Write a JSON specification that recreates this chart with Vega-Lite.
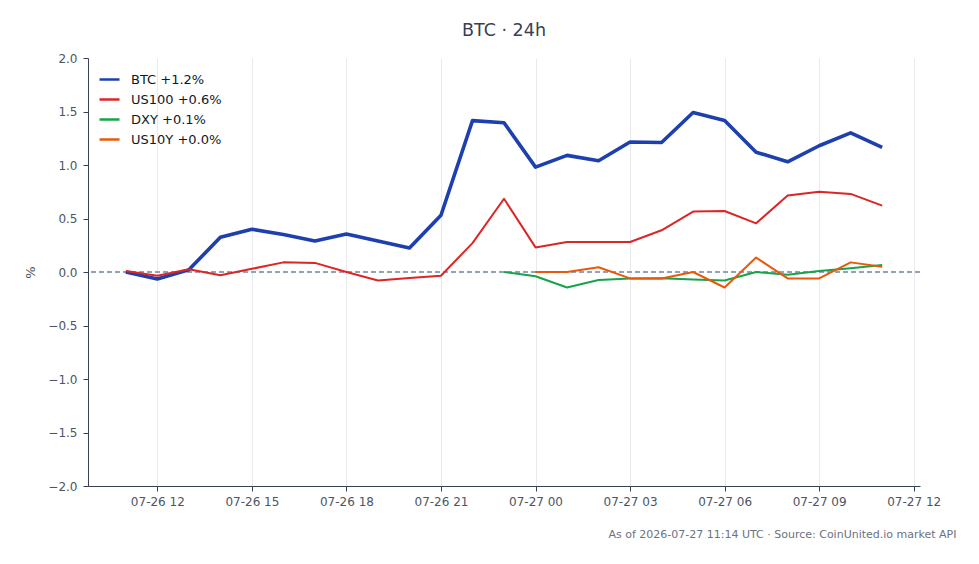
{
  "autosize": {"type": "none"},
  "padding": {"left": 88, "top": 58, "right": 59, "bottom": 78},
  "width": 832,
  "height": 428,
  "config": {
    "font": "DejaVu Sans",
    "view": {"stroke": null},
    "axis": {
      "labelColor": "#4b5563",
      "titleColor": "#4b5563",
      "labelFontSize": 12,
      "domainColor": "#374151",
      "tickColor": "#374151",
      "gridColor": "#e8eaee",
      "tickSize": 5
    }
  },
  "title": {
    "text": "BTC \u00b7 24h",
    "fontSize": 17.5,
    "fontWeight": "normal",
    "color": "#374151",
    "offset": 13
  },
  "data": {
    "values": [
      {"t": "2026-07-26T11:00:00Z", "s": "BTC +1.2%", "v": 0.0},
      {"t": "2026-07-26T12:00:00Z", "s": "BTC +1.2%", "v": -0.065},
      {"t": "2026-07-26T13:00:00Z", "s": "BTC +1.2%", "v": 0.02},
      {"t": "2026-07-26T14:00:00Z", "s": "BTC +1.2%", "v": 0.325},
      {"t": "2026-07-26T15:00:00Z", "s": "BTC +1.2%", "v": 0.4},
      {"t": "2026-07-26T16:00:00Z", "s": "BTC +1.2%", "v": 0.35},
      {"t": "2026-07-26T17:00:00Z", "s": "BTC +1.2%", "v": 0.29},
      {"t": "2026-07-26T18:00:00Z", "s": "BTC +1.2%", "v": 0.355},
      {"t": "2026-07-26T19:00:00Z", "s": "BTC +1.2%", "v": 0.29},
      {"t": "2026-07-26T20:00:00Z", "s": "BTC +1.2%", "v": 0.225},
      {"t": "2026-07-26T21:00:00Z", "s": "BTC +1.2%", "v": 0.53},
      {"t": "2026-07-26T22:00:00Z", "s": "BTC +1.2%", "v": 1.415},
      {"t": "2026-07-26T23:00:00Z", "s": "BTC +1.2%", "v": 1.395},
      {"t": "2026-07-27T00:00:00Z", "s": "BTC +1.2%", "v": 0.98},
      {"t": "2026-07-27T01:00:00Z", "s": "BTC +1.2%", "v": 1.09},
      {"t": "2026-07-27T02:00:00Z", "s": "BTC +1.2%", "v": 1.04},
      {"t": "2026-07-27T03:00:00Z", "s": "BTC +1.2%", "v": 1.215},
      {"t": "2026-07-27T04:00:00Z", "s": "BTC +1.2%", "v": 1.21},
      {"t": "2026-07-27T05:00:00Z", "s": "BTC +1.2%", "v": 1.49},
      {"t": "2026-07-27T06:00:00Z", "s": "BTC +1.2%", "v": 1.415},
      {"t": "2026-07-27T07:00:00Z", "s": "BTC +1.2%", "v": 1.12},
      {"t": "2026-07-27T08:00:00Z", "s": "BTC +1.2%", "v": 1.03},
      {"t": "2026-07-27T09:00:00Z", "s": "BTC +1.2%", "v": 1.18},
      {"t": "2026-07-27T10:00:00Z", "s": "BTC +1.2%", "v": 1.3},
      {"t": "2026-07-27T11:00:00Z", "s": "BTC +1.2%", "v": 1.165},
      {"t": "2026-07-26T11:00:00Z", "s": "US100 +0.6%", "v": 0.01},
      {"t": "2026-07-26T12:00:00Z", "s": "US100 +0.6%", "v": -0.035},
      {"t": "2026-07-26T13:00:00Z", "s": "US100 +0.6%", "v": 0.025},
      {"t": "2026-07-26T14:00:00Z", "s": "US100 +0.6%", "v": -0.03},
      {"t": "2026-07-26T15:00:00Z", "s": "US100 +0.6%", "v": 0.03},
      {"t": "2026-07-26T16:00:00Z", "s": "US100 +0.6%", "v": 0.09},
      {"t": "2026-07-26T17:00:00Z", "s": "US100 +0.6%", "v": 0.085},
      {"t": "2026-07-26T18:00:00Z", "s": "US100 +0.6%", "v": 0.0},
      {"t": "2026-07-26T19:00:00Z", "s": "US100 +0.6%", "v": -0.08},
      {"t": "2026-07-26T20:00:00Z", "s": "US100 +0.6%", "v": -0.055},
      {"t": "2026-07-26T21:00:00Z", "s": "US100 +0.6%", "v": -0.035},
      {"t": "2026-07-26T22:00:00Z", "s": "US100 +0.6%", "v": 0.27},
      {"t": "2026-07-26T23:00:00Z", "s": "US100 +0.6%", "v": 0.685},
      {"t": "2026-07-27T00:00:00Z", "s": "US100 +0.6%", "v": 0.23},
      {"t": "2026-07-27T01:00:00Z", "s": "US100 +0.6%", "v": 0.28},
      {"t": "2026-07-27T02:00:00Z", "s": "US100 +0.6%", "v": 0.28},
      {"t": "2026-07-27T03:00:00Z", "s": "US100 +0.6%", "v": 0.28},
      {"t": "2026-07-27T04:00:00Z", "s": "US100 +0.6%", "v": 0.39},
      {"t": "2026-07-27T05:00:00Z", "s": "US100 +0.6%", "v": 0.565},
      {"t": "2026-07-27T06:00:00Z", "s": "US100 +0.6%", "v": 0.57},
      {"t": "2026-07-27T07:00:00Z", "s": "US100 +0.6%", "v": 0.455},
      {"t": "2026-07-27T08:00:00Z", "s": "US100 +0.6%", "v": 0.715},
      {"t": "2026-07-27T09:00:00Z", "s": "US100 +0.6%", "v": 0.75},
      {"t": "2026-07-27T10:00:00Z", "s": "US100 +0.6%", "v": 0.73},
      {"t": "2026-07-27T11:00:00Z", "s": "US100 +0.6%", "v": 0.62},
      {"t": "2026-07-26T23:00:00Z", "s": "DXY +0.1%", "v": 0.0},
      {"t": "2026-07-27T00:00:00Z", "s": "DXY +0.1%", "v": -0.04},
      {"t": "2026-07-27T01:00:00Z", "s": "DXY +0.1%", "v": -0.145},
      {"t": "2026-07-27T02:00:00Z", "s": "DXY +0.1%", "v": -0.075},
      {"t": "2026-07-27T03:00:00Z", "s": "DXY +0.1%", "v": -0.06},
      {"t": "2026-07-27T04:00:00Z", "s": "DXY +0.1%", "v": -0.058},
      {"t": "2026-07-27T05:00:00Z", "s": "DXY +0.1%", "v": -0.07},
      {"t": "2026-07-27T06:00:00Z", "s": "DXY +0.1%", "v": -0.08},
      {"t": "2026-07-27T07:00:00Z", "s": "DXY +0.1%", "v": 0.0},
      {"t": "2026-07-27T08:00:00Z", "s": "DXY +0.1%", "v": -0.025},
      {"t": "2026-07-27T09:00:00Z", "s": "DXY +0.1%", "v": 0.01},
      {"t": "2026-07-27T10:00:00Z", "s": "DXY +0.1%", "v": 0.035},
      {"t": "2026-07-27T11:00:00Z", "s": "DXY +0.1%", "v": 0.065},
      {"t": "2026-07-27T00:00:00Z", "s": "US10Y +0.0%", "v": 0.0},
      {"t": "2026-07-27T01:00:00Z", "s": "US10Y +0.0%", "v": 0.0},
      {"t": "2026-07-27T02:00:00Z", "s": "US10Y +0.0%", "v": 0.045},
      {"t": "2026-07-27T03:00:00Z", "s": "US10Y +0.0%", "v": -0.06},
      {"t": "2026-07-27T04:00:00Z", "s": "US10Y +0.0%", "v": -0.06},
      {"t": "2026-07-27T05:00:00Z", "s": "US10Y +0.0%", "v": 0.0},
      {"t": "2026-07-27T06:00:00Z", "s": "US10Y +0.0%", "v": -0.145},
      {"t": "2026-07-27T07:00:00Z", "s": "US10Y +0.0%", "v": 0.135},
      {"t": "2026-07-27T08:00:00Z", "s": "US10Y +0.0%", "v": -0.06},
      {"t": "2026-07-27T09:00:00Z", "s": "US10Y +0.0%", "v": -0.06},
      {"t": "2026-07-27T10:00:00Z", "s": "US10Y +0.0%", "v": 0.09},
      {"t": "2026-07-27T11:00:00Z", "s": "US10Y +0.0%", "v": 0.05}
    ]
  },
  "layer": [
    {
      "mark": {"type": "rule", "strokeDash": [5, 3], "color": "#94a3b8", "strokeWidth": 1},
      "encoding": {"y": {"datum": 0}}
    },
    {
      "mark": {"type": "line", "strokeJoin": "round"},
      "encoding": {
        "x": {
          "field": "t",
          "type": "temporal",
          "scale": {"domain": [1785059280000, 1785154320000]},
          "axis": {
            "format": "%m-%d %H",
            "tickCount": 9,
            "labelPadding": 5,
            "title": "As of 2026-07-27 11:14 UTC \u00b7 Source: CoinUnited.io market API",
            "titleFontSize": 11,
            "titleFontWeight": "normal",
            "titleColor": "#6b7280",
            "titleAlign": "right",
            "titleX": 868,
            "titleY": 42
          }
        },
        "y": {
          "field": "v",
          "type": "quantitative",
          "scale": {"domain": [-2, 2], "nice": false},
          "axis": {
            "values": [-2, -1.5, -1, -0.5, 0, 0.5, 1, 1.5, 2],
            "format": ".1f",
            "title": "%",
            "titleFontSize": 13,
            "titleFontWeight": "normal",
            "titlePadding": 10,
            "labelPadding": 6
          }
        },
        "strokeWidth": {
          "condition": {"test": "datum.s === 'BTC +1.2%'", "value": 3.6},
          "value": 2
        },
        "color": {
          "field": "s",
          "type": "nominal",
          "scale": {
            "domain": ["BTC +1.2%", "US100 +0.6%", "DXY +0.1%", "US10Y +0.0%"],
            "range": ["#1e40af", "#dc2626", "#16a34a", "#ea580c"]
          },
          "legend": {
            "title": null,
            "orient": "top-left",
            "offset": 10,
            "symbolType": "stroke",
            "symbolSize": 400,
            "symbolStrokeWidth": 2.5,
            "labelFontSize": 13,
            "labelColor": "#111827",
            "rowPadding": 1,
            "labelOffset": 10
          }
        }
      }
    }
  ]
}
